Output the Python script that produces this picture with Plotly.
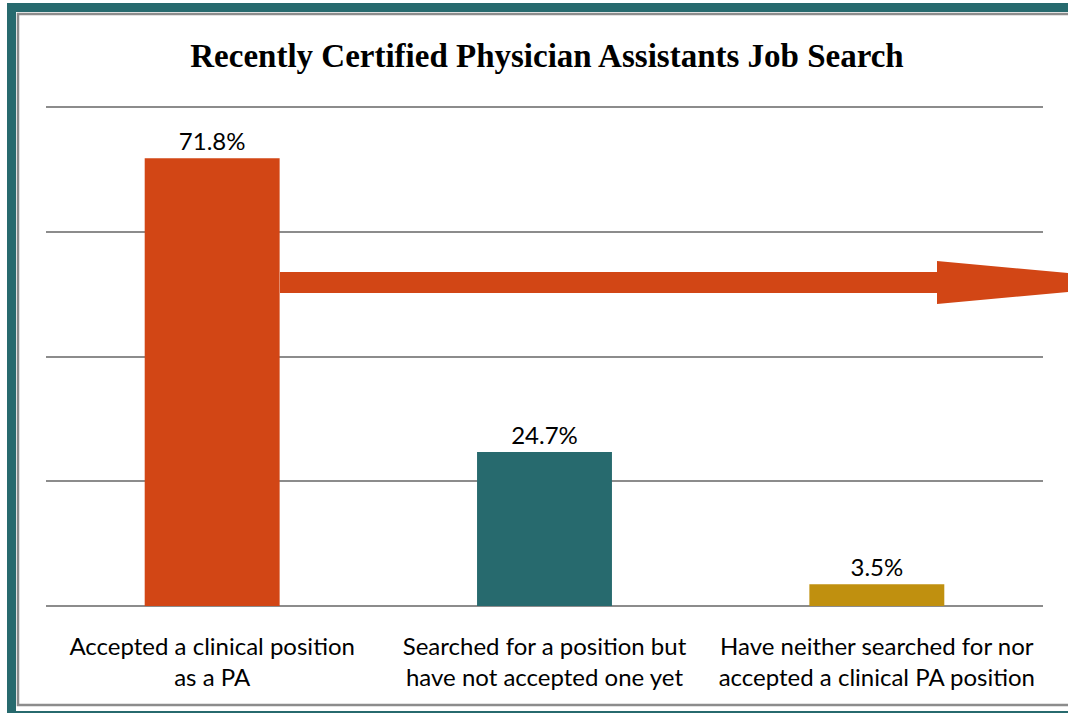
import plotly.graph_objects as go

categories = ["Accepted a clinical position<br>as a PA",
              "Searched for a position but<br>have not accepted one yet",
              "Have neither searched for nor<br>accepted a clinical PA position"]
values = [71.8, 24.7, 3.5]
labels = ["71.8%", "24.7%", "3.5%"]
colors = ["#D24615", "#276A6E", "#C0900F"]
title = "Recently Certified Physician Assistants Job Search"

W, H = 1068, 713
L, R, T, B = 46, 25, 106, 107
PW, PH = W - L - R, H - T - B

def px(x):
    return (x - L) / PW

def py(y):
    return (H - B - y) / PH

fig = go.Figure(go.Bar(
    x=categories, y=values, marker_color=colors, marker_line_width=0,
    text=labels, textposition="outside", cliponaxis=False,
    textfont=dict(family="Lato", size=24, color="#000000"),
    width=0.406,
))

shapes = []
shapes.append(dict(type="rect", xref="paper", yref="paper", x0=px(7), x1=px(1200), y0=py(3), y1=py(800),
                   fillcolor="#276A6E", line_width=0, layer="below"))
shapes.append(dict(type="rect", xref="paper", yref="paper", x0=px(16), x1=px(1200), y0=py(12), y1=py(711),
                   fillcolor="#FFFFFF", line_width=0, layer="below"))
shapes.append(dict(type="rect", xref="paper", yref="paper", x0=px(18), x1=px(1200), y0=py(14), y1=py(705),
                   fillcolor="rgba(0,0,0,0)", line=dict(color="#8C8C8C", width=2.5), layer="below"))

sx0, sx1 = 280, 937
tip = 1170
shaft_top, shaft_bot = 272, 293
head_top, head_bot = 261, 304
cy = (shaft_top + shaft_bot) / 2
path = (f"M {px(sx0)} {py(shaft_top)} L {px(sx1)} {py(shaft_top)} L {px(sx1)} {py(head_top)} "
        f"L {px(tip)} {py(cy)} L {px(sx1)} {py(head_bot)} L {px(sx1)} {py(shaft_bot)} "
        f"L {px(sx0)} {py(shaft_bot)} Z")
shapes.append(dict(type="path", xref="paper", yref="paper", path=path,
                   fillcolor="#D24615", line_width=0, layer="above"))

fig.update_layout(
    width=W, height=H,
    margin=dict(l=L, r=R, t=T, b=B),
    paper_bgcolor="#FFFFFF", plot_bgcolor="#FFFFFF",
    showlegend=False,
    bargap=0.594,
    title=dict(text=f"<b>{title}</b>", x=547 / W, xanchor="center", y=1 - 55 / H, yanchor="middle",
               font=dict(family="Liberation Serif", size=33, color="#000000")),
    xaxis=dict(showgrid=False, showline=False, ticks="", zeroline=False, ticklabelstandoff=24,
               tickfont=dict(family="Lato", size=24, color="#000000")),
    yaxis=dict(range=[0, 80.2], dtick=20, showticklabels=False, showgrid=True,
               gridcolor="#8C8C8C", gridwidth=2, zeroline=True, zerolinecolor="#8C8C8C",
               zerolinewidth=2, showline=False, ticks=""),
    shapes=shapes,
)

fig.write_html("out.html")
